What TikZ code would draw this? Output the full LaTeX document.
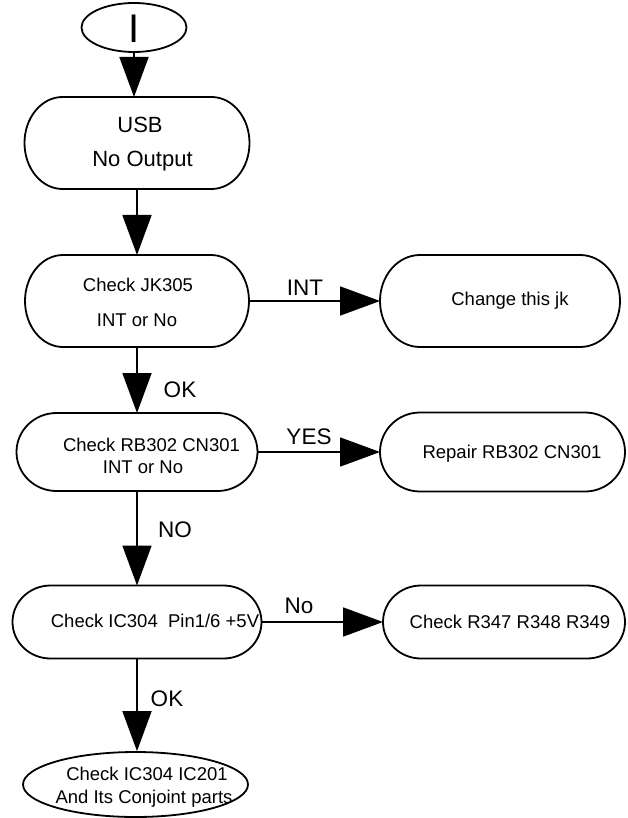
\documentclass[tikz,border=0pt]{standalone}
\usepackage{fontspec}
\setmainfont{Liberation Sans}
\usetikzlibrary{arrows.meta,shapes.geometric}

\tikzset{
  outl/.style={line width=1.8pt, draw=black},
  boxnode/.style={rectangle, inner sep=0pt, outer sep=0pt, draw=none},
  arr/.style={line width=1.8pt, -{Triangle[length=40pt,width=29pt]}},
  btxt/.style={anchor=base, inner sep=0pt, font=\fontsize{18.5}{20}\selectfont},
  ltxt/.style={anchor=base, inner sep=0pt, font=\fontsize{22.5}{24}\selectfont},
  utxt/.style={anchor=base, inner sep=0pt, font=\fontsize{22}{24}\selectfont},
}

% name, cx, cy, half width, half height, end x radius
\newcommand\stadbox[6]{%
  \node[boxnode, minimum width={(2*#4)*1pt}, minimum height={(2*#5)*1pt}] (#1) at (#2,#3) {};
  \draw[outl] (#2-#4+#6,#3-#5) -- (#2+#4-#6,#3-#5)
     arc[start angle=90, end angle=-90, x radius=#6pt, y radius=#5pt]
     -- (#2-#4+#6,#3+#5)
     arc[start angle=-90, end angle=-270, x radius=#6pt, y radius=#5pt] -- cycle;
}

\begin{document}
\begin{tikzpicture}[x=1pt, y=-1pt]
\useasboundingbox (0,0) rectangle (627,818);

% start
\node[ellipse, outl, minimum width=105pt, minimum height=49pt, inner sep=0pt] (start) at (134,27.5) {};
\node[anchor=base, inner sep=0pt, font=\fontsize{40}{40}\selectfont] (tI) at (134,43) {I};

% left column
\stadbox{usb}{137}{143}{112.5}{46}{38}
\node[utxt] (tusb1) at (140,133) {USB};
\node[utxt] (tusb2) at (142.5,167) {No Output};

\stadbox{jk}{137}{301}{112}{46}{38}
\node[btxt] (tjk1) at (138,291.6) {Check JK305};
\node[btxt] (tjk2) at (137,326) {INT or No};

\stadbox{rb}{137}{452}{120.5}{39}{40}
\node[btxt] (trb1) at (151.5,451) {Check RB302 CN301};
\node[btxt] (trb2) at (143,473) {INT or No};

\stadbox{ic}{137}{622}{124.5}{36.5}{38}
\node[btxt] (tic) at (155,627.5) {Check IC304\ \ Pin1/6 +5V};

\node[ellipse, outl, minimum width=225pt, minimum height=65pt, inner sep=0pt] (end) at (135.5,784.5) {};
\node[btxt] (tend1) at (147,780) {Check IC304 IC201};
\node[btxt] (tend2) at (144,803) {And Its Conjoint parts};

% right column
\stadbox{chg}{500}{301}{120}{46}{40}
\node[btxt] (tchg) at (510,305) {Change this jk};

\stadbox{rep}{502.5}{452}{122.5}{39.5}{40}
\node[btxt] (trep) at (512,458) {Repair RB302 CN301};

\stadbox{rr}{504}{622}{121}{36.5}{38}
\node[btxt] (trr) at (510,628) {Check R347 R348 R349};

% vertical connectors
\draw[arr] (start.south) -- (start.south |- usb.north);
\draw[arr] (usb.south) -- (jk.north);
\draw[arr] (jk.south) -- (rb.north);
\draw[arr] (rb.south) -- (ic.north);
\draw[arr] (ic.south) -- (ic.south |- end.north);

% horizontal connectors
\draw[arr] (jk.east) -- (chg.west);
\draw[arr] (rb.east) -- (rep.west);
\draw[arr] (ic.east) -- (rr.west);

% labels
\node[ltxt] (lint) at (305,295) {INT};
\node[ltxt] (lyes) at (309,444) {YES};
\node[ltxt] (lno) at (299,613) {No};
\node[ltxt] (lok1) at (180,397) {OK};
\node[ltxt] (lno2) at (175,537) {NO};
\node[ltxt] (lok2) at (167,706) {OK};
\end{tikzpicture}
\end{document}
